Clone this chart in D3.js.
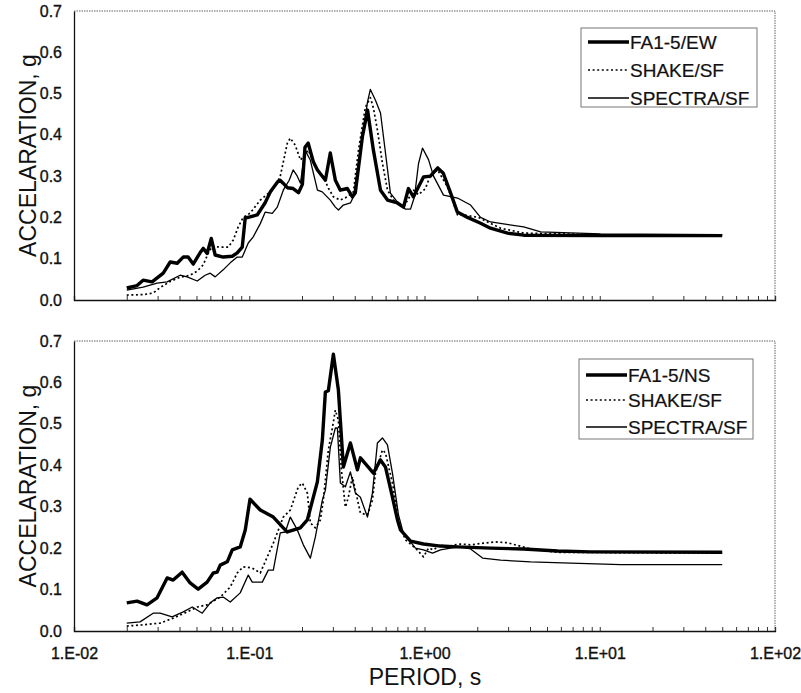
<!DOCTYPE html>
<html>
<head>
<meta charset="utf-8">
<script src="https://cdn.jsdelivr.net/npm/d3@7"></script>
<style>
  html, body { margin: 0; padding: 0; background: #fff; }
  svg { display: block; }
  text { font-family: "Liberation Sans", Arial, Helvetica, sans-serif; fill: #111; }
</style>
</head>
<body>
<svg id="chart" width="801" height="693"></svg>
<script>
// ---------------- DATA ----------------
const xTickValues = [0.01, 0.1, 1, 10, 100];
const yTickValues = [0, 0.1, 0.2, 0.3, 0.4, 0.5, 0.6, 0.7];

// Top panel (EW)
const ewLegend = ["FA1-5/EW", "SHAKE/SF", "SPECTRA/SF"];
const ewFaPeriod = [0.020,0.0229,0.0248,0.0279,0.0323,0.0354,0.0388,0.042,0.0448,0.0479,0.0525,0.0546,0.0575,0.0607,0.0639,0.071,0.080,0.0854,0.0912,0.0949,0.0987,0.111,0.123,0.132,0.145,0.150,0.156,0.165,0.178,0.191,0.201,0.208,0.217,0.232,0.245,0.272,0.290,0.310,0.331,0.363,0.388,0.403,0.442,0.473,0.511,0.561,0.615,0.701,0.759,0.810,0.865,0.987,1.08,1.19,1.28,1.41,1.54,1.76,2.09,2.38,2.98,3.68,10.1,50];
const ewFaAcc    = [0.029,0.035,0.048,0.044,0.065,0.092,0.089,0.104,0.104,0.087,0.115,0.125,0.113,0.149,0.109,0.104,0.106,0.114,0.128,0.200,0.200,0.206,0.235,0.262,0.286,0.290,0.283,0.272,0.270,0.260,0.280,0.370,0.380,0.335,0.315,0.290,0.356,0.290,0.266,0.270,0.250,0.260,0.395,0.460,0.363,0.266,0.242,0.235,0.225,0.270,0.250,0.298,0.300,0.320,0.307,0.259,0.213,0.200,0.186,0.174,0.162,0.157,0.156,0.156];

const ewShakePeriod = [0.020,0.0248,0.0283,0.031,0.0354,0.0403,0.046,0.0505,0.0546,0.0583,0.0615,0.0683,0.0759,0.081,0.0865,0.0924,0.101,0.1156,0.1353,0.150,0.165,0.1715,0.183,0.196,0.217,0.245,0.265,0.283,0.302,0.331,0.363,0.393,0.420,0.460,0.491,0.511,0.539,0.575,0.615,0.665,0.759,0.865,0.924,1.013,1.082,1.187,1.353,1.445,1.543,1.671,2.035,2.291,2.719,3.679,10.1,50];
const ewShakeAcc    = [0.012,0.013,0.017,0.030,0.045,0.055,0.060,0.070,0.085,0.113,0.130,0.128,0.128,0.145,0.177,0.200,0.210,0.242,0.266,0.298,0.380,0.392,0.375,0.339,0.363,0.315,0.298,0.271,0.250,0.242,0.250,0.262,0.363,0.467,0.490,0.465,0.411,0.332,0.266,0.242,0.225,0.266,0.255,0.270,0.303,0.315,0.274,0.242,0.206,0.206,0.200,0.189,0.174,0.162,0.158,0.158];

const ewSpecPeriod = [0.020,0.0248,0.0298,0.034,0.0403,0.0442,0.0505,0.056,0.0599,0.0639,0.071,0.0779,0.0854,0.0912,0.0987,0.1054,0.1156,0.1234,0.1353,0.1445,0.1564,0.169,0.178,0.188,0.196,0.208,0.223,0.245,0.261,0.290,0.310,0.323,0.344,0.378,0.393,0.431,0.473,0.491,0.525,0.561,0.599,0.639,0.701,0.779,0.832,0.877,0.924,0.974,1.054,1.126,1.284,1.543,1.832,2.089,2.384,3.679,4.602,10.1,50];
const ewSpecAcc    = [0.024,0.031,0.041,0.044,0.060,0.056,0.046,0.060,0.065,0.056,0.073,0.090,0.104,0.104,0.138,0.153,0.185,0.213,0.210,0.225,0.266,0.290,0.315,0.300,0.283,0.363,0.339,0.266,0.262,0.242,0.225,0.218,0.230,0.235,0.250,0.363,0.480,0.510,0.484,0.453,0.356,0.259,0.237,0.220,0.220,0.250,0.330,0.368,0.340,0.300,0.254,0.247,0.230,0.200,0.189,0.177,0.165,0.160,0.158];

// Bottom panel (NS)
const nsLegend = ["FA1-5/NS", "SHAKE/SF", "SPECTRA/SF"];
const nsFaPeriod = [0.020,0.0229,0.0261,0.0298,0.034,0.0368,0.0414,0.046,0.0511,0.0575,0.0623,0.0656,0.0683,0.0749,0.080,0.0888,0.0949,0.101,0.1156,0.1372,0.1564,0.1649,0.1956,0.2145,0.2447,0.2613,0.2719,0.2827,0.302,0.3225,0.3444,0.3777,0.4141,0.4308,0.5112,0.5605,0.5986,0.6563,0.7012,0.7294,0.8318,0.9869,1.234,1.543,2.384,3.679,5.754,8.882,50];
const nsFaAcc    = [0.068,0.072,0.063,0.080,0.128,0.123,0.142,0.116,0.101,0.118,0.140,0.142,0.159,0.167,0.196,0.203,0.244,0.318,0.292,0.275,0.249,0.239,0.249,0.268,0.360,0.461,0.577,0.580,0.668,0.582,0.396,0.454,0.389,0.418,0.381,0.413,0.396,0.323,0.268,0.244,0.217,0.210,0.205,0.203,0.200,0.198,0.193,0.191,0.190];

const nsShakePeriod = [0.020,0.0248,0.031,0.0368,0.0442,0.0505,0.0575,0.0683,0.0779,0.0854,0.0924,0.104,0.1156,0.1267,0.1372,0.1564,0.1715,0.1905,0.2009,0.2145,0.2232,0.2384,0.2545,0.2648,0.2827,0.298,0.31,0.3225,0.3355,0.3536,0.3679,0.3878,0.4034,0.4308,0.4725,0.5045,0.5248,0.5754,0.5986,0.6563,0.7012,0.7294,0.7788,0.8882,0.9869,1.054,1.126,1.234,1.318,1.445,1.606,1.832,2.174,2.545,2.98,4.034,5.754,50];
const nsShakeAcc    = [0.012,0.015,0.019,0.031,0.046,0.058,0.063,0.082,0.106,0.140,0.155,0.152,0.140,0.179,0.212,0.275,0.292,0.348,0.357,0.333,0.261,0.249,0.268,0.316,0.437,0.490,0.533,0.509,0.389,0.299,0.323,0.372,0.340,0.285,0.280,0.316,0.381,0.437,0.430,0.357,0.285,0.251,0.220,0.200,0.179,0.200,0.196,0.208,0.200,0.207,0.210,0.208,0.212,0.215,0.213,0.198,0.190,0.188];

const nsSpecPeriod = [0.020,0.0238,0.0283,0.031,0.0363,0.042,0.0473,0.0539,0.0599,0.0656,0.071,0.0779,0.0888,0.0987,0.104,0.1187,0.1284,0.1372,0.1503,0.1606,0.1715,0.1881,0.2035,0.2232,0.2384,0.2613,0.2719,0.2903,0.31,0.3183,0.3311,0.3536,0.3777,0.4034,0.4308,0.4725,0.5045,0.5388,0.5754,0.6146,0.6563,0.7105,0.7586,0.8318,0.8882,0.9869,1.111,1.234,1.408,1.606,1.832,2.145,2.719,4.034,6.83,13.18,50];
const nsSpecAcc    = [0.019,0.022,0.043,0.043,0.034,0.046,0.058,0.043,0.068,0.080,0.082,0.070,0.092,0.135,0.118,0.118,0.147,0.147,0.237,0.239,0.275,0.244,0.208,0.176,0.227,0.316,0.340,0.444,0.490,0.490,0.357,0.348,0.384,0.333,0.323,0.275,0.333,0.454,0.466,0.449,0.381,0.280,0.235,0.215,0.200,0.196,0.188,0.196,0.200,0.203,0.198,0.176,0.171,0.167,0.164,0.160,0.160];

const xTitle = "PERIOD, s";
const yTitle = "ACCELARATION, g";

// ---------------- DRAW ----------------
const svg = d3.select("#chart");
const x = d3.scaleLog().domain([0.01, 100]).range([74, 775]);

const styles = [
  { width: 3.4, dash: null },
  { width: 1.7, dash: "2,2.6" },
  { width: 1.3, dash: null }
];

function zip(p, a) { return p.map((t, i) => ({ t, a: a[i] })); }

function fmtExp(d) {
  const e = Math.round(Math.log10(d));
  const s = e < 0 ? "-" : "+";
  return "1.E" + s + String(Math.abs(e)).padStart(2, "0");
}

function styleTickText(sel) {
  sel.attr("font-size", 16).attr("fill", "#111")
    .attr("stroke", "#111").attr("stroke-width", 0.35)
    .attr("font-family", '"Liberation Sans", Arial, sans-serif');
}

function panel(top, bottom, series, legend, legBox, showXLabels) {
  const y = d3.scaleLinear().domain([0, 0.7]).range([bottom, top]);
  const g = svg.append("g");

  // frame top & right (light dotted)
  g.append("path")
    .attr("d", `M${x(0.01)},${y(0.7)}H${x(100)}V${y(0)}`)
    .attr("fill", "none").attr("stroke", "#666").attr("stroke-width", 1)
    .attr("stroke-dasharray", "1.5,1");

  // minor ticks on x axis (inward)
  const minor = [];
  for (let e = -2; e < 2; e++) for (let m = 1; m < 10; m++) minor.push(m * Math.pow(10, e));
  minor.push(100);
  const xa = d3.axisBottom(x).tickValues(minor).tickSize(-4).tickFormat("");
  const xg = g.append("g").attr("transform", `translate(0,${y(0)})`).call(xa);
  xg.select(".domain").attr("stroke", "#111").attr("stroke-width", 1.3);
  xg.selectAll(".tick line").attr("stroke", "#333");

  if (showXLabels) {
    const xl = d3.axisBottom(x).tickValues(xTickValues).tickSize(0).tickPadding(17).tickFormat(fmtExp);
    const xlg = g.append("g").attr("transform", `translate(0,${y(0)})`).call(xl);
    xlg.select(".domain").remove();
    styleTickText(xlg.selectAll("text"));
  }

  const ya = d3.axisLeft(y).tickValues(yTickValues).tickSize(0).tickPadding(12).tickFormat(d3.format(".1f"));
  const yg = g.append("g").attr("transform", `translate(${x(0.01)},0)`).call(ya);
  yg.select(".domain").attr("stroke", "#111").attr("stroke-width", 1.3);
  styleTickText(yg.selectAll("text"));

  // y title
  g.append("text")
    .attr("transform", `translate(36,${(top + bottom) / 2}) rotate(-90)`)
    .attr("text-anchor", "middle")
    .attr("font-size", 23)
    .text(yTitle);

  // lines
  const line = d3.line().x(d => x(d.t)).y(d => y(d.a));
  series.forEach((s, i) => {
    g.append("path")
      .datum(s)
      .attr("d", line)
      .attr("fill", "none")
      .attr("stroke", "#000")
      .attr("stroke-width", styles[i].width)
      .attr("stroke-linejoin", "round")
      .attr("stroke-dasharray", styles[i].dash);
  });

  // legend
  const lg = g.append("g");
  lg.append("rect")
    .attr("x", legBox.x).attr("y", legBox.y)
    .attr("width", legBox.w).attr("height", legBox.h)
    .attr("fill", "#fff").attr("stroke", "#777").attr("stroke-width", 1);
  legend.forEach((name, i) => {
    const cy = legBox.rows[i];
    lg.append("line")
      .attr("x1", legBox.x + 7).attr("x2", legBox.x + 48)
      .attr("y1", cy).attr("y2", cy)
      .attr("stroke", "#000")
      .attr("stroke-width", styles[i].width)
      .attr("stroke-dasharray", styles[i].dash);
    lg.append("text")
      .attr("x", legBox.x + 49).attr("y", cy + 7)
      .attr("font-size", 19)
      .attr("stroke", "#111").attr("stroke-width", 0.2)
      .text(name);
  });
}

panel(11, 300,
  [zip(ewFaPeriod, ewFaAcc), zip(ewShakePeriod, ewShakeAcc), zip(ewSpecPeriod, ewSpecAcc)],
  ewLegend, { x: 581, y: 28, w: 176, h: 79, rows: [42, 70, 98] }, false);

panel(341, 631,
  [zip(nsFaPeriod, nsFaAcc), zip(nsShakePeriod, nsShakeAcc), zip(nsSpecPeriod, nsSpecAcc)],
  nsLegend, { x: 579, y: 359, w: 174, h: 80, rows: [375, 400, 427] }, true);

svg.append("text")
  .attr("x", 425).attr("y", 685)
  .attr("text-anchor", "middle")
  .attr("font-size", 23)
  .text(xTitle);
</script>
</body>
</html>
